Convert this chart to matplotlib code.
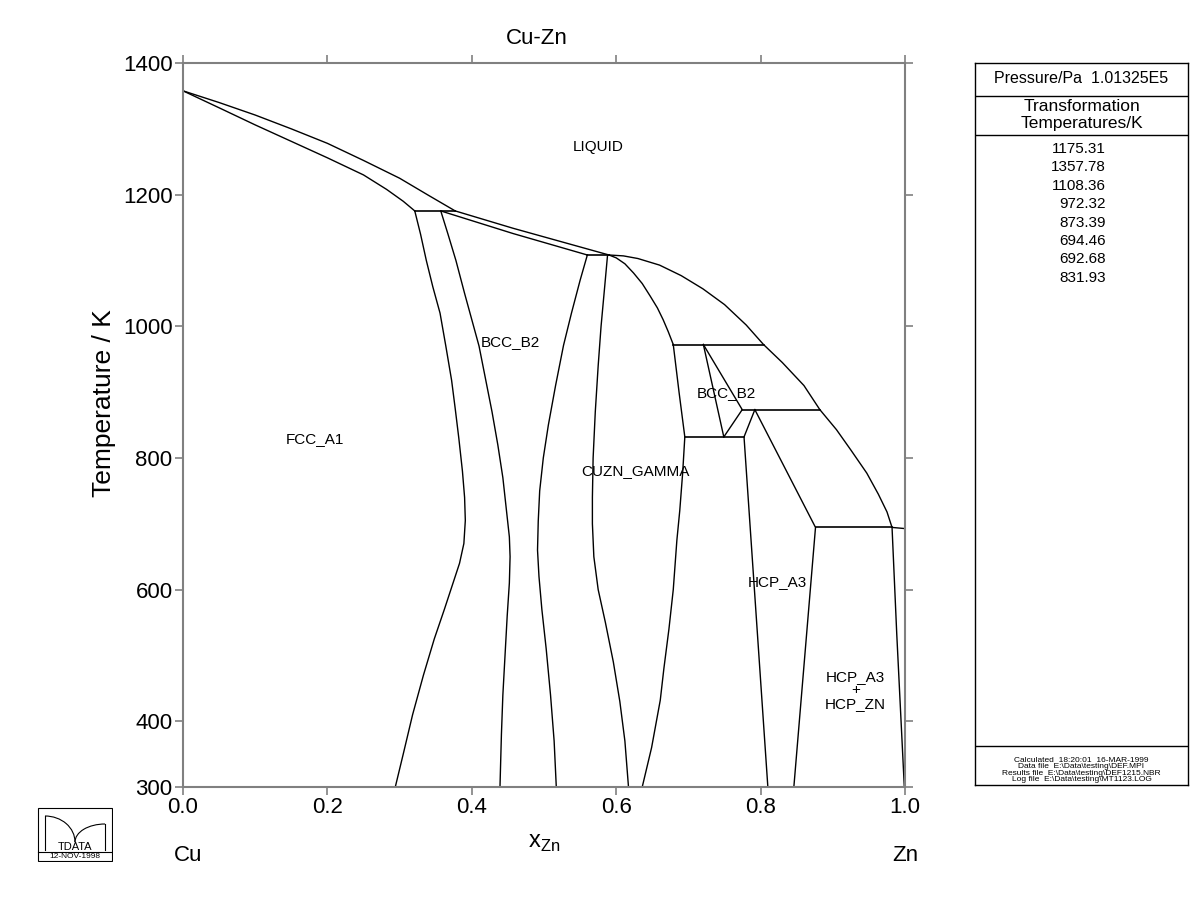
import matplotlib
matplotlib.use("Agg")
import matplotlib.pyplot as plt
from matplotlib.patches import Rectangle, Arc

plt.rcParams['font.family'] = ['Liberation Sans', 'DejaVu Sans']

# ---- phase boundaries (x_Zn, T/K) ----
liq_cu_x = [0.0, 0.05, 0.10, 0.15, 0.20, 0.25, 0.30, 0.34, 0.377]
liq_cu_T = [1357.78, 1340, 1321, 1300, 1278, 1252, 1225, 1199, 1175.31]
sol_fcc_x = [0.0, 0.05, 0.10, 0.15, 0.20, 0.25, 0.282, 0.305, 0.321]
sol_fcc_T = [1357.78, 1332, 1306, 1281, 1256, 1230, 1208, 1190, 1175.31]

fcc_x = [0.321, 0.329, 0.337, 0.346, 0.356, 0.364, 0.372, 0.377, 0.382, 0.387, 0.390,
         0.391, 0.389, 0.383, 0.374, 0.362, 0.348, 0.333, 0.318, 0.305, 0.294]
fcc_T = [1175.31, 1140, 1100, 1060, 1020, 970, 918, 875, 830, 780, 740,
         705, 670, 640, 610, 570, 525, 470, 410, 350, 300]

bcc_l_x = [0.357, 0.367, 0.378, 0.390, 0.400, 0.410, 0.419, 0.428, 0.436, 0.443,
           0.448, 0.452, 0.453, 0.452, 0.449, 0.446, 0.443, 0.441, 0.439]
bcc_l_T = [1175.31, 1140, 1100, 1050, 1010, 970, 920, 870, 820, 770,
           720, 680, 650, 610, 560, 500, 440, 380, 300]

liq_bcc_x = [0.377, 0.457, 0.590]
liq_bcc_T = [1175.31, 1149, 1108.36]
sol_bcc_x = [0.357, 0.457, 0.560]
sol_bcc_T = [1175.31, 1141, 1108.36]

bcc_r_x = [0.560, 0.550, 0.538, 0.527, 0.516, 0.506, 0.499, 0.494, 0.492, 0.491,
           0.493, 0.497, 0.503, 0.509, 0.514, 0.517]
bcc_r_T = [1108.36, 1070, 1020, 971, 910, 850, 800, 750, 704, 660,
           620, 570, 510, 440, 370, 300]

gam_l_x = [0.588, 0.584, 0.579, 0.575, 0.571, 0.568, 0.567, 0.567, 0.569, 0.575,
           0.585, 0.596, 0.605, 0.612, 0.617]
gam_l_T = [1108.36, 1060, 1000, 940, 870, 800, 740, 700, 650, 600,
           550, 490, 430, 370, 300]

gam_sol_x = [0.590, 0.600, 0.612, 0.624, 0.636, 0.647, 0.657, 0.665, 0.672, 0.679]
gam_sol_T = [1108.36, 1104, 1095, 1081, 1065, 1046, 1028, 1010, 992, 972.32]

gam_r_x = [0.679, 0.687, 0.695, 0.692, 0.688, 0.684, 0.679, 0.673, 0.666, 0.661, 0.649, 0.636]
gam_r_T = [972.32, 900, 831.93, 777, 720, 675, 600, 540, 480, 432, 360, 300]

liq_zn_x = [0.590, 0.610, 0.630, 0.660, 0.690, 0.720, 0.750, 0.780, 0.804, 0.830,
            0.860, 0.882, 0.905, 0.925, 0.947, 0.963, 0.975, 0.982, 1.0]
liq_zn_T = [1108.36, 1107, 1103, 1093, 1077, 1057, 1033, 1002, 972.32, 945,
            910, 873.39, 843, 812, 777, 745, 718, 694.46, 692.68]

bcc2_l_x = [0.7207, 0.749]
bcc2_l_T = [972.32, 831.93]
bcc2_r_x = [0.7207, 0.7745, 0.749]
bcc2_r_T = [972.32, 873.39, 831.93]

eps_l_x = [0.792, 0.777, 0.810]
eps_l_T = [873.39, 831.93, 300]
eps_r_x = [0.792, 0.876, 0.846]
eps_r_T = [873.39, 694.46, 300]

eta_x = [0.982, 0.9885, 0.999]
eta_T = [694.46, 533, 300]

# invariant (horizontal) lines
inv_T = [1175.31, 1108.36, 972.32, 873.39, 831.93, 694.46]
inv_x0 = [0.321, 0.560, 0.679, 0.7745, 0.695, 0.876]
inv_x1 = [0.377, 0.590, 0.804, 0.882, 0.777, 0.982]

phase_labels = ["LIQUID", "BCC_B2", "FCC_A1", "BCC_B2", "CUZN_GAMMA", "HCP_A3", "HCP_A3\n+\nHCP_ZN"]
label_x = [0.575, 0.454, 0.183, 0.753, 0.627, 0.823, 0.931]
label_T = [1272, 976, 829, 898, 780, 611, 447]

trans_temps = ["1175.31", "1357.78", "1108.36", "972.32", "873.39", "694.46", "692.68", "831.93"]
calc_info = ["Calculated  18:20:01  16-MAR-1999",
             "Data file  E:\\Data\\testing\\DEF.MPI",
             "Results file  E:\\Data\\testing\\DEF1215.NBR",
             "Log file  E:\\Data\\testing\\MT1123.LOG"]

fig = plt.figure(figsize=(12, 9.23), dpi=100)
ax = fig.add_axes([0.1525, 0.1473, 0.6017, 0.7844])

curves = [(liq_cu_x, liq_cu_T), (sol_fcc_x, sol_fcc_T), (fcc_x, fcc_T), (bcc_l_x, bcc_l_T),
          (liq_bcc_x, liq_bcc_T), (sol_bcc_x, sol_bcc_T), (bcc_r_x, bcc_r_T), (gam_l_x, gam_l_T),
          (gam_sol_x, gam_sol_T), (gam_r_x, gam_r_T), (liq_zn_x, liq_zn_T), (bcc2_l_x, bcc2_l_T),
          (bcc2_r_x, bcc2_r_T), (eps_l_x, eps_l_T), (eps_r_x, eps_r_T), (eta_x, eta_T)]
for cx, cT in curves:
    ax.plot(cx, cT, color='black', lw=1.0, solid_joinstyle='round')
for T, a, b in zip(inv_T, inv_x0, inv_x1):
    ax.plot([a, b], [T, T], color='black', lw=1.2)

for s, lx, lT in zip(phase_labels, label_x, label_T):
    ax.text(lx, lT, s, ha='center', va='center', fontsize=11, linespacing=0.95)

ax.set_xlim(0, 1)
ax.set_ylim(300, 1400)
ax.set_xticks([0, 0.2, 0.4, 0.6, 0.8, 1.0])
ax.set_xticklabels(["0.0", "0.2", "0.4", "0.6", "0.8", "1.0"])
ax.set_yticks([300, 400, 600, 800, 1000, 1200, 1400])
for sp in ax.spines.values():
    sp.set_color('#808080')
    sp.set_linewidth(1.5)
ax.tick_params(direction='out', length=6, width=1.2, color='#808080', labelsize=16, pad=1.5,
               top=True, right=True, labeltop=False, labelright=False)
ax.set_title("Cu-Zn", fontsize=16, pad=14, x=0.49)
ax.set_ylabel("Temperature / K", fontsize=19, labelpad=4)
ax.yaxis.set_label_coords(-0.093, 0.53)
ax.set_xlabel(r"x$_{\mathregular{Zn}}$", fontsize=17, labelpad=10)
ax.text(-0.013, -0.095, "Cu", transform=ax.transAxes, fontsize=16, ha='left', va='center')
ax.text(1.0, -0.095, "Zn", transform=ax.transAxes, fontsize=16, ha='center', va='center')

# ---- info box on the right ----
bx = fig.add_axes([0.8125, 0.1495, 0.1775, 0.7822])
bx.set_xlim(0, 1)
bx.set_ylim(0, 1)
bx.set_xticks([])
bx.set_yticks([])
for sp in bx.spines.values():
    sp.set_linewidth(1.0)
bx.axhline(1 - 33 / 722, color='black', lw=1)
bx.axhline(1 - 72 / 722, color='black', lw=1)
bx.axhline(1 - 683 / 722, color='black', lw=1)
bx.text(0.5, 1 - 15 / 722, "Pressure/Pa  1.01325E5", ha='center', va='center', fontsize=11.5)
bx.text(0.5, 1 - 52 / 722, "Transformation\nTemperatures/K", ha='center', va='center', fontsize=12.5)
for i, t in enumerate(trans_temps):
    bx.text(0.615, 1 - (86 + 18.4 * i) / 722, t, ha='right', va='center', fontsize=11)
bx.text(0.5, 1 - 707 / 722, "\n".join(calc_info), ha='center', va='center', fontsize=6,
        linespacing=0.9)

# ---- logo bottom-left ----
lg = fig.add_axes([37 / 1200, 1 - 862 / 923, 76 / 1200, 55 / 923])
lg.set_xlim(0, 76)
lg.set_ylim(0, 55)
lg.axis('off')
lg.add_patch(Rectangle((1, 1), 74, 53, fill=False, lw=0.8, color='black'))
lg.plot([1, 75], [10, 10], color='black', lw=0.8)
lg.plot([8, 8], [12, 46], color='black', lw=0.8)
lg.plot([68, 68], [12, 38], color='black', lw=0.8)
lg.add_patch(Arc((8, 20), 60, 52, theta1=0, theta2=90, lw=0.8))
lg.add_patch(Arc((68, 20), 60, 36, theta1=90, theta2=180, lw=0.8))
lg.text(38, 15, "TDATA", ha='center', va='center', fontsize=8)
lg.text(38, 5, "12-NOV-1998", ha='center', va='center', fontsize=6)

fig.savefig("out.png", dpi=100)
